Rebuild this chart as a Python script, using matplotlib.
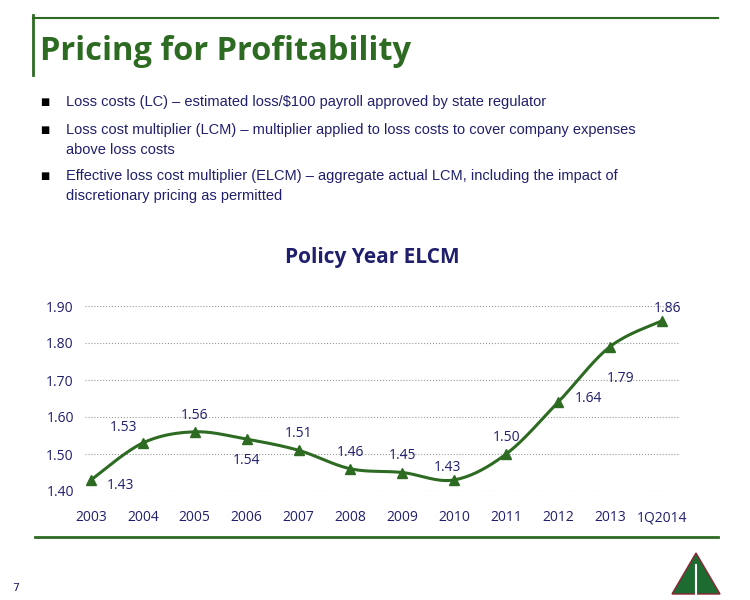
import numpy as np
import matplotlib.pyplot as plt
from matplotlib.patches import Polygon

years = ['2003', '2004', '2005', '2006', '2007', '2008', '2009', '2010',
         '2011', '2012', '2013', '1Q2014']
elcm = [1.43, 1.53, 1.56, 1.54, 1.51, 1.46, 1.45, 1.43, 1.50, 1.64, 1.79, 1.86]
# label offsets (points) relative to each marker
offsets = [(21, -4), (-14, 11), (0, 12), (0, -15), (0, 12), (0, 12),
           (0, 12), (-5, 9), (0, 12), (22, 3), (8, -23), (4, 9)]
yticks = [1.40, 1.50, 1.60, 1.70, 1.80, 1.90]

green = '#2E6B22'
navy = '#1F1F6E'
fig = plt.figure(figsize=(7.5, 6), dpi=100)

# slide decoration
fig.add_artist(plt.Line2D([33/750, 33/750], [1-15/600, 1-75/600], color=green, lw=2))
fig.add_artist(plt.Line2D([33/750, 718/750], [1-18/600, 1-18/600], color=green, lw=1.5))
fig.add_artist(plt.Line2D([35/750, 718/750], [1-537/600, 1-537/600], color=green, lw=2))
fig.text(40/750, 1-52/600, 'Pricing for Profitability', color=green, fontsize=23.5,
         fontweight='bold', family='Open Sans', va='center')
bullets = [(1-102/600, ['Loss costs (LC) \u2013 estimated loss/$100 payroll approved by state regulator']),
           (1-130/600, ['Loss cost multiplier (LCM) \u2013 multiplier applied to loss costs to cover company expenses',
                        'above loss costs']),
           (1-176/600, ['Effective loss cost multiplier (ELCM) \u2013 aggregate actual LCM, including the impact of',
                        'discretionary pricing as permitted'])]
for y, lines in bullets:
    fig.text(40/750, y, '\u25a0', fontsize=7, color='black', va='center')
    for i, t in enumerate(lines):
        fig.text(66/750, y - i*20/600, t, fontsize=10.5, color='#1F1F6E',
                 family='Liberation Sans', va='center')
fig.text(12/750, 1-588/600, '7', fontsize=8, color=navy, va='center')
fig.add_artist(Polygon([[672/750, 1-594/600], [696/750, 1-553/600], [720/750, 1-594/600]],
                       closed=True, transform=fig.transFigure, facecolor='#1E6B32',
                       edgecolor='#8B2232', lw=1))
fig.add_artist(plt.Line2D([696/750, 696/750], [1-565/600, 1-594/600], color='white', lw=1.5))
fig.text(372/750, 1-257/600, 'Policy Year ELCM', fontsize=15, fontweight='bold',
         color=navy, family='Open Sans', ha='center', va='center')

ax = fig.add_axes([85/750, 1-491/600, 595/750, 185/600])
x = np.arange(len(years))
y = np.array(elcm)
# Catmull-Rom smoothing for the rendered line
pts = np.vstack([[x[0], y[0]], np.column_stack([x, y]), [x[-1], y[-1]]])
sx, sy = [], []
for i in range(1, len(pts) - 2):
    p0, p1, p2, p3 = pts[i-1], pts[i], pts[i+1], pts[i+2]
    for t in np.linspace(0, 1, 20):
        c = 0.5 * ((2*p1) + (-p0 + p2)*t + (2*p0 - 5*p1 + 4*p2 - p3)*t**2
                   + (-p0 + 3*p1 - 3*p2 + p3)*t**3)
        sx.append(c[0]); sy.append(c[1])
ax.plot(sx, sy, color=green, lw=2.2, clip_on=False)
ax.plot(x, y, '^', color=green, ms=7, clip_on=False)
for xi, yi, v, (dx, dy) in zip(x, y, elcm, offsets):
    ax.annotate(f'{v:.2f}', (xi, yi), xytext=(dx, dy), textcoords='offset points',
                ha='center', va='center', fontsize=10, color=navy, family='Open Sans')
ax.set_xlim(-0.116, 11.35)
ax.set_ylim(1.40, 1.90)
ax.set_yticks(yticks)
ax.set_yticklabels([f'{v:.2f}' for v in yticks])
ax.set_xticks(x)
ax.set_xticklabels(years)
ax.tick_params(axis='y', length=0, labelsize=10, labelcolor=navy, pad=8)
ax.tick_params(axis='x', length=0, labelsize=10, labelcolor=navy, pad=14)
for lab in ax.get_xticklabels() + ax.get_yticklabels():
    lab.set_family('Open Sans')
ax.yaxis.grid(True, color='#999999', ls=':', lw=0.8)
for s in ax.spines.values():
    s.set_visible(False)

fig.savefig('out.png', dpi=100)
